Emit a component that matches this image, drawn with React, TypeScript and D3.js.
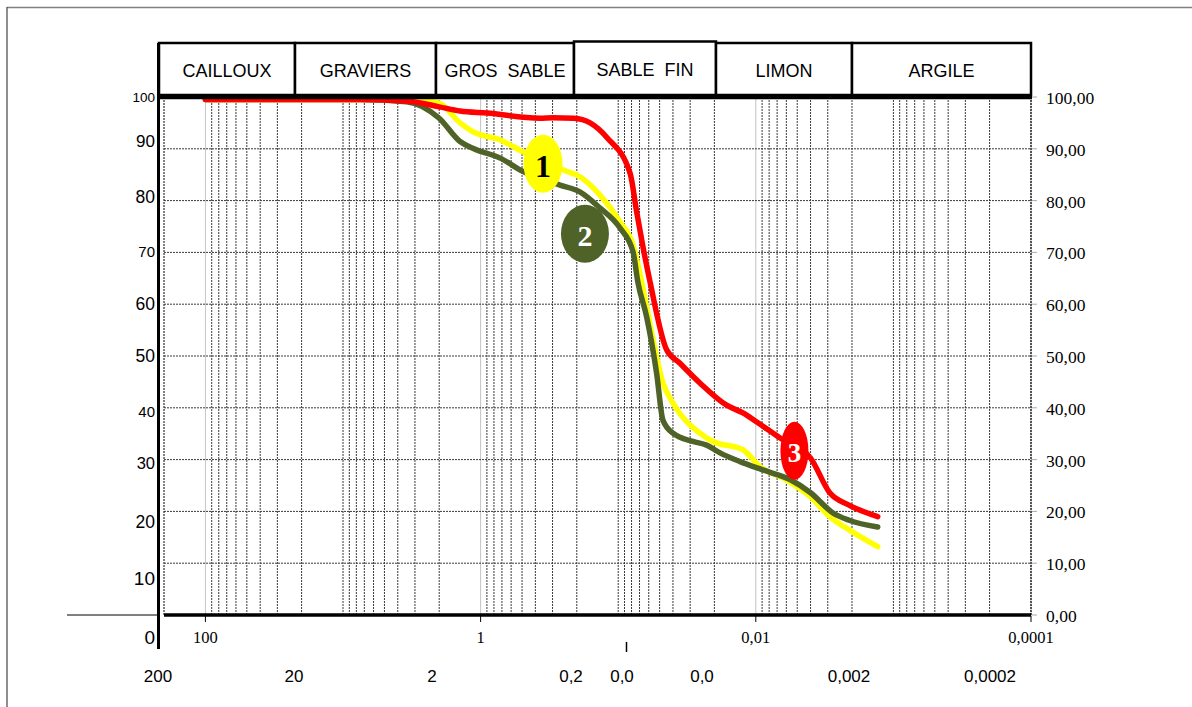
import React from "react";
import * as d3 from "d3";

// Grain-size classes shown in the header band
const classNames = ["CAILLOUX", "GRAVIERS", "GROS  SABLE", "SABLE  FIN", "LIMON", "ARGILE"];

// Curve 1 (yellow): diameter (mm) and percentage passing
const curve1Diam = [100, 3.1, 2.0, 1.41, 1.14, 0.72, 0.49, 0.25, 0.19, 0.136, 0.097, 0.078, 0.0676, 0.0622, 0.0473, 0.04, 0.0255, 0.0205, 0.0124, 0.0093, 0.006, 0.004, 0.0029, 0.002, 0.0013];
const curve1Pass = [99.5, 99.5, 98.8, 95.0, 93.3, 91.7, 89.4, 85.9, 84.6, 81.1, 75.9, 71.4, 64.3, 59.5, 44.8, 40.9, 35.1, 33.5, 31.9, 28.6, 26.1, 22.8, 19.0, 16.1, 13.2];

// Curve 2 (olive green)
const curve2Diam = [100, 7.5, 3.45, 2.0, 1.41, 1.14, 0.72, 0.49, 0.265, 0.19, 0.136, 0.097, 0.078, 0.072, 0.0622, 0.0526, 0.0473, 0.04, 0.0286, 0.0228, 0.0182, 0.013, 0.0089, 0.0056, 0.004, 0.00275, 0.0021, 0.0013];
const curve2Pass = [99.5, 99.5, 99.1, 95.9, 91.4, 90.1, 88.2, 85.6, 83.0, 81.7, 78.6, 74.7, 70.1, 64.3, 57.6, 46.7, 37.6, 35.1, 33.5, 32.8, 31.3, 29.6, 28.0, 26.1, 23.6, 19.7, 18.3, 17.0];

// Curve 3 (red)
const curve3Diam = [100, 7.5, 3.3, 2.0, 1.41, 0.9, 0.37, 0.3, 0.21, 0.16, 0.12, 0.082, 0.0735, 0.066, 0.0587, 0.0445, 0.0356, 0.0255, 0.0163, 0.0124, 0.0099, 0.0067, 0.004, 0.0029, 0.0021, 0.0013];
const curve3Pass = [99.5, 99.5, 99.2, 98.1, 97.3, 96.9, 95.9, 96.0, 95.9, 95.0, 92.1, 85.3, 77.9, 71.0, 64.3, 51.2, 48.6, 44.8, 40.5, 39.0, 37.3, 34.2, 30.3, 23.6, 21.2, 19.0];

// Curve tags: number, diameter, percentage
const tagNumbers = ["1", "2", "3"];
const tagDiam = [0.352, 0.1745, 0.00524];
const tagPass = [87.1, 73.6, 31.7];

// Axis ticks
const percentTicks = [100, 90, 80, 70, 60, 50, 40, 30, 20, 10, 0];
const diamTicks = [100, 1, 0.01, 0.0001];
const diamTickLabels = ["100", "1", "0,01", "0,0001"];
const limitLabels = ["200", "20", "2", "0,2", "0,0", "0,0", "0,002", "0,0002"];

// ---- layout ----
const W = 1192;
const H = 707;
const PLOT = { left: 164, right: 1031, top: 97, bottom: 615 };
const HEADER = { top: 43, bottom: 95 };
const headerEdges = [159, 295, 436, 574, 716, 852, 1031];
const limitLabelX = [158, 294, 432, 571, 622, 702, 849, 990];
const leftLabelShift = [0, -7, -4, -1, 0, 0, 4, 3, 11, 15, 22];
const leftLabelSize = [13.5, 17, 17.5, 15, 17.5, 17.5, 15, 16.5, 17.5, 19, 19];

const SANS = "'Liberation Sans', Arial, sans-serif";
const SERIF = "'Liberation Serif', 'Times New Roman', serif";

const curveColors = ["#FFFF00", "#4F6228", "#FF0000"];
const tagFills = ["#FFFF00", "#4F6228", "#FF0000"];
const tagText = ["#000000", "#FFFFFF", "#FFFFFF"];
const tagRx = [19.5, 24, 14];
const tagRy = [29, 29, 29];
const tagFont = [32, 30, 27];

export default function App() {
  const x = d3.scaleLog().domain([200, 0.0001]).range([PLOT.left, PLOT.right]);
  const y = d3.scaleLinear().domain([0, 100]).range([PLOT.bottom, PLOT.top]);

  const line = d3
    .line<[number, number]>()
    .x((d) => x(d[0]))
    .y((d) => y(d[1]))
    .curve(d3.curveMonotoneX);

  const series = [
    { d: curve1Diam, p: curve1Pass },
    { d: curve2Diam, p: curve2Pass },
    { d: curve3Diam, p: curve3Pass },
  ];

  // log grid: 1..9 x 10^k inside the domain
  const gridVals: number[] = [];
  for (let k = -4; k <= 2; k++) {
    for (let m = 1; m <= 9; m++) {
      const v = m * Math.pow(10, k);
      if (v >= 0.0001 && v <= 200) gridVals.push(v);
    }
  }
  const isMajor = (v: number) => diamTicks.some((t) => Math.abs(Math.log10(v) - Math.log10(t)) < 1e-6);

  const hLevels = percentTicks.filter((v) => v > 0 && v < 100);

  return (
    <svg
      width={W}
      height={H}
      style={{ position: "absolute", left: 0, top: 0, background: "#fff" }}
    >
      <rect x={0} y={0} width={W} height={H} fill="#fff" />
      {/* page frame */}
      <line x1={7} y1={7.5} x2={W} y2={7.5} stroke="#808080" strokeWidth={1.5} />
      <line x1={7} y1={7} x2={7} y2={H} stroke="#444" strokeWidth={1.2} />

      {/* vertical grid */}
      {gridVals.map((v, i) => (
        <line
          key={"v" + i}
          x1={x(v)}
          x2={x(v)}
          y1={PLOT.top}
          y2={PLOT.bottom}
          stroke={isMajor(v) ? "#c4c4c4" : "#3a3a3a"}
          strokeWidth={1}
          strokeDasharray={isMajor(v) ? undefined : "2 1"}
        />
      ))}
      <line x1={PLOT.left} x2={PLOT.left} y1={PLOT.top} y2={PLOT.bottom} stroke="#666" strokeDasharray="2 1" />

      {/* horizontal grid */}
      {hLevels.map((v) => (
        <line key={"h" + v} x1={PLOT.left} x2={PLOT.right} y1={y(v)} y2={y(v)} stroke="#3a3a3a" strokeDasharray="2 1" />
      ))}
      {percentTicks.map((v) => (
        <line key={"rt" + v} x1={PLOT.right} x2={PLOT.right + 6} y1={y(v)} y2={y(v)} stroke="#aaa" />
      ))}
      <line x1={PLOT.right} x2={PLOT.right} y1={PLOT.top} y2={PLOT.bottom} stroke="#555" strokeWidth={2} strokeDasharray="2 1" />

      {/* grading curves */}
      {series.map((s, i) => (
        <path
          key={"c" + i}
          d={line(s.d.map((dv, j) => [dv, s.p[j]] as [number, number])) || ""}
          fill="none"
          stroke={curveColors[i]}
          strokeWidth={5.5}
          strokeLinejoin="round"
          strokeLinecap="round"
        />
      ))}

      {/* frame of the plot */}
      <line x1={158} x2={PLOT.right + 1} y1={PLOT.top + 0.5} y2={PLOT.top + 0.5} stroke="#000" strokeWidth={3.5} />
      <line x1={PLOT.left} x2={PLOT.right} y1={PLOT.bottom} y2={PLOT.bottom} stroke="#000" strokeWidth={3.5} />
      <line x1={67} x2={158} y1={PLOT.bottom} y2={PLOT.bottom} stroke="#000" strokeWidth={1} />
      <line x1={158.5} x2={158.5} y1={HEADER.top} y2={649} stroke="#000" strokeWidth={3} />

      {/* header band */}
      {classNames.map((name, i) => {
        const x0 = headerEdges[i];
        const x1 = headerEdges[i + 1];
        const top = i === 3 ? HEADER.top - 1.5 : HEADER.top;
        return (
          <g key={"hd" + i}>
            <rect x={x0} y={top} width={x1 - x0} height={HEADER.bottom - top} fill="#fff" stroke="#000" strokeWidth={2.5} />
            <text
              x={(x0 + x1) / 2}
              y={i === 3 ? 69.5 : 70.5}
              textAnchor="middle"
              dominantBaseline="central"
              fontFamily={SANS}
              fontSize={18}
              fill="#000"
              style={{ whiteSpace: "pre" }}
            >
              {name}
            </text>
          </g>
        );
      })}

      {/* left percentage labels */}
      {percentTicks.map((v, i) => (
        <text
          key={"l" + v}
          x={155}
          y={y(v) + leftLabelShift[i]}
          textAnchor="end"
          dominantBaseline="central"
          fontFamily={SANS}
          fontSize={leftLabelSize[i]}
          fill="#000"
        >
          {String(v)}
        </text>
      ))}

      {/* right percentage labels */}
      {percentTicks.map((v) => (
        <text
          key={"r" + v}
          x={1046}
          y={y(v) + 1}
          dominantBaseline="central"
          fontFamily={SERIF}
          fontSize={17.5}
          fill="#000"
        >
          {v.toFixed(2).replace(".", ",")}
        </text>
      ))}

      {/* diameter ticks and labels */}
      {diamTicks.map((v, i) => (
        <g key={"dt" + i}>
          <line x1={x(v)} x2={x(v)} y1={PLOT.bottom + 1} y2={PLOT.bottom + 7} stroke="#000" />
          <text
            x={x(v)}
            y={637}
            textAnchor="middle"
            dominantBaseline="central"
            fontFamily={SERIF}
            fontSize={16.5}
            fill="#000"
          >
            {diamTickLabels[i]}
          </text>
        </g>
      ))}
      <line x1={626.5} x2={626.5} y1={642} y2={652} stroke="#000" strokeWidth={1.5} />

      {/* class limit labels */}
      {limitLabels.map((t, i) => (
        <text
          key={"lim" + i}
          x={limitLabelX[i]}
          y={676}
          textAnchor="middle"
          dominantBaseline="central"
          fontFamily={SANS}
          fontSize={17}
          fill="#000"
        >
          {t}
        </text>
      ))}

      {/* curve tags */}
      {tagNumbers.map((t, i) => (
        <g key={"tag" + i}>
          <ellipse cx={x(tagDiam[i])} cy={y(tagPass[i])} rx={tagRx[i]} ry={tagRy[i]} fill={tagFills[i]} />
          <text
            x={x(tagDiam[i])}
            y={y(tagPass[i]) + 2}
            textAnchor="middle"
            dominantBaseline="central"
            fontFamily={SERIF}
            fontWeight="bold"
            fontSize={tagFont[i]}
            fill={tagText[i]}
          >
            {t}
          </text>
        </g>
      ))}
    </svg>
  );
}
